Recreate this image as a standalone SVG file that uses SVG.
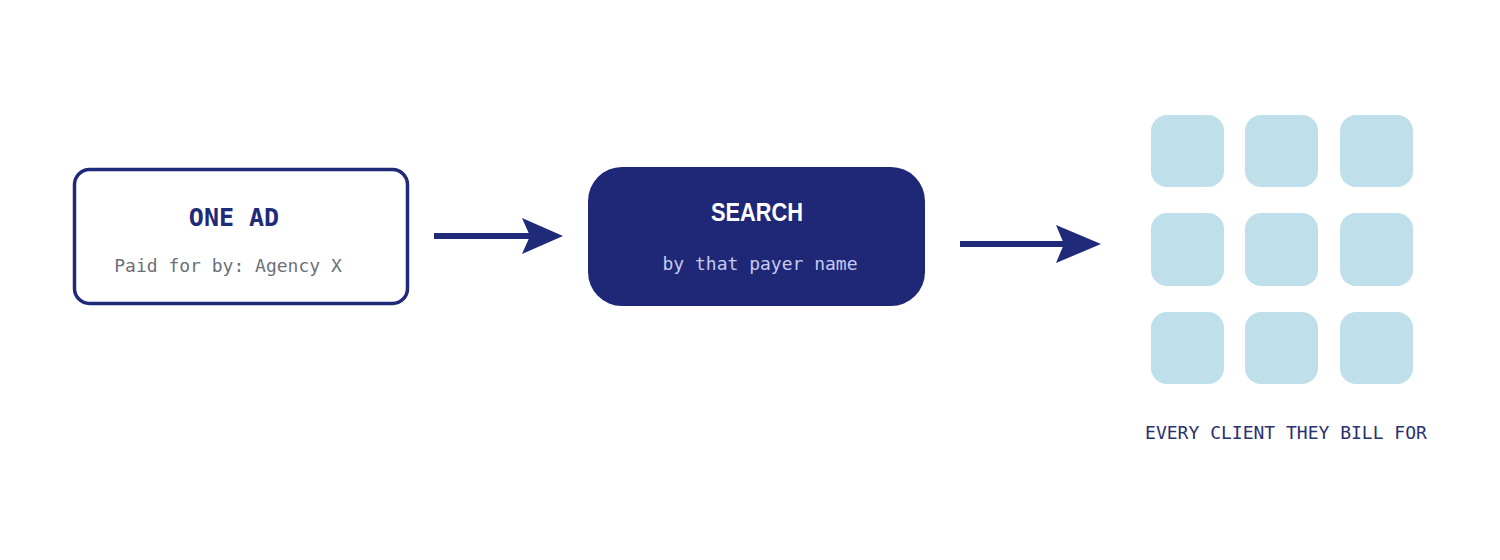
<svg xmlns="http://www.w3.org/2000/svg" width="1500" height="560" viewBox="0 0 1500 560">
<style>
.mono{font-family:"DejaVu Sans Mono","Liberation Mono",monospace;}
.title{font-size:25px;font-weight:bold;text-anchor:middle;}
.sub{font-size:18px;text-anchor:middle;}
.tile{fill:#bfe0eb;}
.conn{stroke:#1f2a78;stroke-width:6;fill:none;}
.head{fill:#1f2a78;}
</style>
<rect width="1500" height="560" fill="#ffffff"/>
<g id="node-one-ad">
<rect x="74.5" y="169.5" width="333" height="134" rx="15" fill="#ffffff" stroke="#1f2a78" stroke-width="3.5"/>
<text class="mono title" x="234" y="226" fill="#1f2a78">ONE AD</text>
<text class="mono sub" x="228" y="272" fill="#6b7078">Paid for by: Agency X</text>
</g>
<g id="node-search">
<rect x="588" y="167" width="337" height="139" rx="34" fill="#1f2877"/>
<text x="711" y="221" font-family="'Liberation Sans','DejaVu Sans',sans-serif" font-size="26" font-weight="bold" textLength="92" lengthAdjust="spacingAndGlyphs" fill="#ffffff">SEARCH</text>
<text class="mono sub" x="760" y="270" fill="#c5cbf0">by that payer name</text>
</g>
<g id="node-clients">
<rect class="tile" x="1151" y="115" width="73" height="72" rx="16"/>
<rect class="tile" x="1245" y="115" width="73" height="72" rx="16"/>
<rect class="tile" x="1340" y="115" width="73" height="72" rx="16"/>
<rect class="tile" x="1151" y="213" width="73" height="73" rx="16"/>
<rect class="tile" x="1245" y="213" width="73" height="73" rx="16"/>
<rect class="tile" x="1340" y="213" width="73" height="73" rx="16"/>
<rect class="tile" x="1151" y="312" width="73" height="72" rx="16"/>
<rect class="tile" x="1245" y="312" width="73" height="72" rx="16"/>
<rect class="tile" x="1340" y="312" width="73" height="72" rx="16"/>
<text class="mono sub" x="1286" y="439" fill="#2a3170">EVERY CLIENT THEY BILL FOR</text>
</g>
<g id="connectors">
<line class="conn" x1="434" y1="236" x2="530" y2="236"/>
<polygon class="head" points="563,236 522,218 530,236 522,254"/>
<line class="conn" x1="960" y1="244" x2="1064" y2="244"/>
<polygon class="head" points="1101,244 1056,225 1064,244 1056,263"/>
</g>
</svg>
